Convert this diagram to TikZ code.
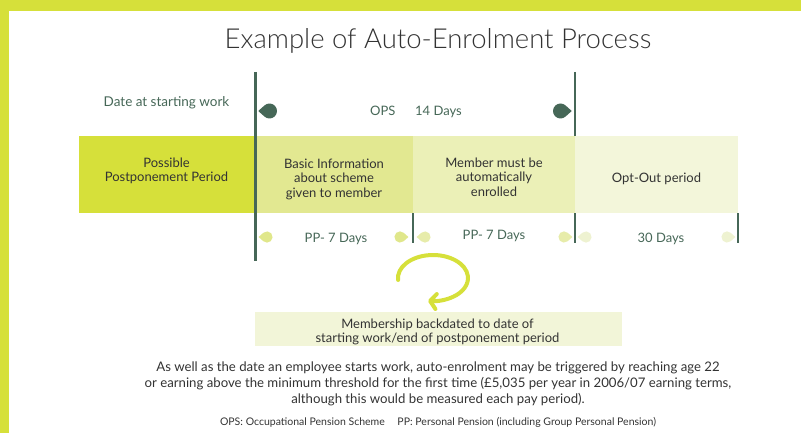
\documentclass[tikz,border=0pt]{standalone}
\usepackage{fontspec}
\setmainfont{Lato}
\newfontfamily\titlefont{Lato Light}
\usetikzlibrary{arrows.meta,calc}

\definecolor{lime}{HTML}{D6E03A}
\definecolor{bandB}{HTML}{E2E891}
\definecolor{bandC}{HTML}{EBF0B7}
\definecolor{bandD}{HTML}{F3F6DA}
\definecolor{boxfill}{HTML}{F2F5D8}
\definecolor{pine}{HTML}{466757}
\definecolor{ink}{HTML}{333333}
\definecolor{dotB}{HTML}{E0E78B}
\definecolor{dotC}{HTML}{E7ECAA}
\definecolor{dotD}{HTML}{EEF2D1}

% teardrop marker: centre, direction of the point, radius (pt), colour
\newcommand\tipmark[4]{%
  \fill[#4] (#1) ++(#2:1.5*#3pt) -- ($(#1)+(#2-48:#3pt)$)
    arc[start angle=#2-48, end angle=#2+48-360, radius=#3pt] -- cycle;}

\begin{document}
\begin{tikzpicture}[x=1pt, y=-1pt,
  band/.style={rectangle, inner sep=0pt, minimum height=77pt},
  bandtext/.style={inner sep=0pt, anchor=north, align=center, text=ink,
    font=\fontsize{13}{14.5}\selectfont},
  timetext/.style={inner sep=0pt, anchor=base, text=pine,
    font=\fontsize{13}{15}\selectfont},
  mainline/.style={draw=pine, line width=3pt},
  tickline/.style={draw=pine, line width=1.6pt},
]
\useasboundingbox (0,0) rectangle (801,433);

% frame bars
\fill[lime] (0,0) rectangle (801,11);
\fill[lime] (0,0) rectangle (9,433);

% title
\node[anchor=base, inner sep=0pt, text=ink, font=\titlefont\fontsize{27.5}{32}\selectfont]
  (title) at (438,49) {Example of Auto-Enrolment Process};

% upper timeline
\node[timetext, font=\fontsize{13.5}{15}\selectfont] (dsw) at (166.5,107) {Date at starting work};
\node[timetext, anchor=base west] (ops) at (370,116) {OPS};
\node[timetext, anchor=base west] (d14) at (415,116) {14 Days};

% period bands
\node[band, fill=lime,  minimum width=175pt] (band1) at (166.5,174.5) {};
\node[band, fill=bandB, minimum width=159pt] (band2) at (334.5,174.5) {};
\node[band, fill=bandC, minimum width=162pt] (band3) at (494,174.5) {};
\node[band, fill=bandD, minimum width=163pt] (band4) at (656.5,174.5) {};

\node[bandtext] (t1) at (166.5,157.5) {Possible\\Postponement Period};
\node[bandtext] (t2) at (334,158.5) {Basic Information\\about scheme\\given to member};
\node[bandtext] (t3) at (494,157.5) {Member must be\\automatically\\enrolled};
\node[bandtext] (t4) at (656.5,173) {Opt-Out period};

% timeline rules
\coordinate (startTop) at (255,72);
\coordinate (startBot) at (255,261);
\coordinate (opsTop) at (575,72);
\coordinate (opsBot) at (575,136);
\draw[mainline] (startTop) -- (startBot);
\draw[tickline] (opsTop) -- (opsBot);
\foreach \x in {413,575,738} {
  \draw[tickline] (\x,213) -- (\x,243);
}

% markers
\tipmark{269.5,111}{180}{7.5}{pine}
\tipmark{560.5,111}{0}{7.5}{pine}
\tipmark{267,237}{180}{5.6}{dotB}
\tipmark{400,237}{0}{5.6}{dotB}
\tipmark{425,237}{180}{5.6}{dotC}
\tipmark{564,237}{0}{5.6}{dotC}
\tipmark{586,237}{180}{5.6}{dotD}
\tipmark{727,237}{0}{5.6}{dotD}

% lower timeline labels
\node[timetext] (pp1) at (336,242) {PP- 7 Days};
\node[timetext] (pp2) at (494,240) {PP- 7 Days};
\node[timetext] (d30) at (661,242) {30 Days};

% backdating arrow
\coordinate (loop) at (433,278);
\draw[lime, line width=4pt, line cap=round,
      -{Straight Barb[length=6pt, width=15pt, round]}]
  ($(loop)+(185:35pt and 23pt)$)
  arc[start angle=185, end angle=-98, x radius=35pt, y radius=23pt];

% backdating note
\node[rectangle, fill=boxfill, minimum width=367pt, minimum height=34pt, inner sep=0pt]
  (memb) at (438.5,329) {};
\node[bandtext] (membt) at (437.5,318.5)
  {Membership backdated to date of\\starting work/end of postponement period};

% explanatory paragraph
\node[bandtext, font=\fontsize{13.2}{16}\selectfont] (para) at (438,361.5)
  {As well as the date an employee starts work, auto-enrolment may be triggered by reaching age 22\\
   or earning above the minimum threshold for the first time (£5,035 per year in 2006/07 earning terms,\\
   although this would be measured each pay period).};

% abbreviations
\node[anchor=base, inner sep=0pt, text=ink, font=\fontsize{10.5}{12}\selectfont]
  (foot) at (438,425)
  {OPS: Occupational Pension Scheme\hspace{1.2em}PP: Personal Pension (including Group Personal Pension)};
\end{tikzpicture}
\end{document}
